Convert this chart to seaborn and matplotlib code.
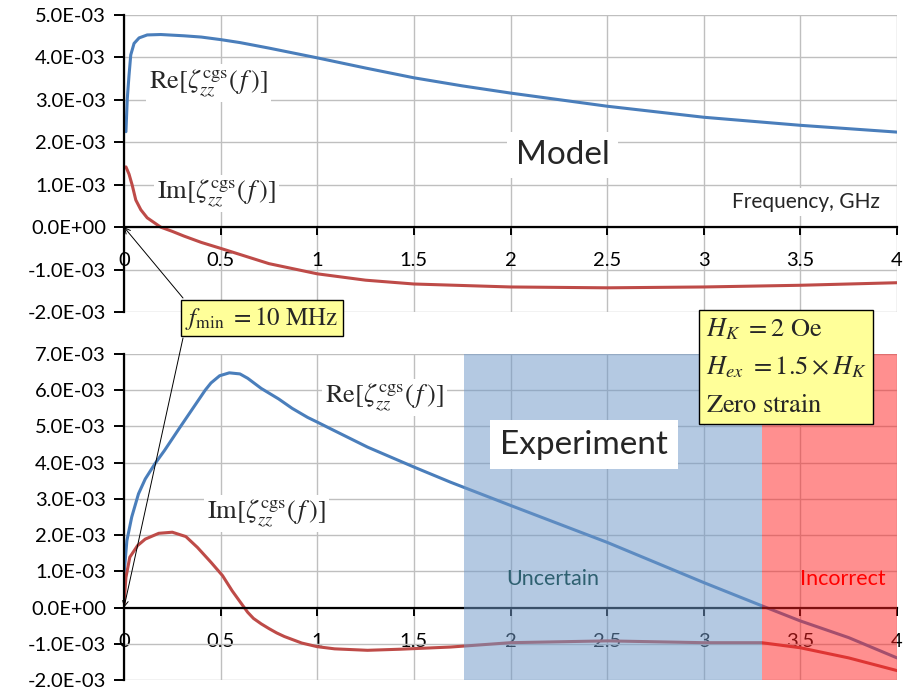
import numpy as np
import pandas as pd
import matplotlib
matplotlib.use("Agg")
import matplotlib.pyplot as plt
from matplotlib.ticker import FuncFormatter
import seaborn as sns

# Model curves (frequency in GHz, values in units of 1e-3)
model_re_f = [0.01, 0.017, 0.026, 0.035, 0.052, 0.078, 0.12, 0.19, 0.31, 0.4, 0.5,
              0.6, 0.75, 1.0, 1.25, 1.5, 1.75, 2.0, 2.5, 3.0, 3.5, 4.0]
model_re = [2.25, 3.03, 3.58, 4.06, 4.33, 4.46, 4.53, 4.54, 4.51, 4.48, 4.42,
            4.35, 4.22, 3.99, 3.75, 3.52, 3.33, 3.16, 2.85, 2.59, 2.4, 2.24]
model_im_f = [0.01, 0.026, 0.043, 0.061, 0.087, 0.12, 0.174, 0.19, 0.25, 0.31, 0.4,
              0.5, 0.75, 1.0, 1.25, 1.5, 2.0, 2.5, 3.0, 3.5, 4.0]
model_im = [1.42, 1.25, 0.98, 0.64, 0.41, 0.22, 0.05, 0.0, -0.1, -0.21, -0.36,
            -0.5, -0.86, -1.1, -1.25, -1.34, -1.41, -1.43, -1.41, -1.37, -1.31]

# Experiment curves
exp_re_f = [0.0, 0.015, 0.04, 0.075, 0.11, 0.16, 0.21, 0.28, 0.35, 0.42, 0.45, 0.495,
            0.545, 0.6, 0.64, 0.71, 0.8, 0.87, 0.95, 1.0, 1.09, 1.26, 1.5, 1.69, 2.0,
            2.5, 3.0, 3.3, 3.5, 3.75, 4.0]
exp_re = [0.92, 1.85, 2.5, 3.14, 3.55, 3.97, 4.34, 4.9, 5.45, 6.0, 6.2, 6.4,
          6.48, 6.45, 6.33, 6.05, 5.76, 5.5, 5.25, 5.12, 4.88, 4.43, 3.88, 3.46, 2.82,
          1.8, 0.69, 0.05, -0.37, -0.83, -1.39]
exp_im_f = [0.0, 0.01, 0.03, 0.07, 0.11, 0.18, 0.25, 0.32, 0.38, 0.45, 0.51, 0.56,
            0.61, 0.64, 0.67, 0.71, 0.75, 0.79, 0.83, 0.92, 1.0, 1.09, 1.26, 1.43, 1.69,
            2.0, 2.5, 3.0, 3.3, 3.5, 3.75, 4.0]
exp_im = [0.1, 0.83, 1.39, 1.71, 1.89, 2.05, 2.08, 1.96, 1.66, 1.25, 0.88, 0.46,
          0.09, -0.13, -0.3, -0.45, -0.58, -0.7, -0.8, -0.98, -1.08, -1.14, -1.18,
          -1.15, -1.09, -0.97, -0.92, -0.97, -0.97, -1.11, -1.39, -1.74]

x_ticks = [0, 0.5, 1, 1.5, 2, 2.5, 3, 3.5, 4]
uncertain_band = (1.76, 3.3)
incorrect_band = (3.3, 4.0)

BLUE = "#4A7EBB"
RED = "#BE4B48"

sns.set_style("white")
plt.rcParams["font.family"] = ["Lato", "DejaVu Sans"]
plt.rcParams["mathtext.fontset"] = "stix"

fig = plt.figure(figsize=(9.06, 6.95), dpi=100)
W, H = 906, 695
ax1 = fig.add_axes([124 / W, 1 - 312 / H, (897 - 124) / W, (312 - 15) / H])
ax2 = fig.add_axes([124 / W, 1 - 680 / H, (897 - 124) / W, (680 - 354) / H])


def style_axes(ax, ymin, ymax):
    ax.set_xlim(0, 4)
    ax.set_ylim(ymin * 1e-3, ymax * 1e-3)
    ax.set_xticks(x_ticks)
    ax.set_xticklabels([f"{t:g}" for t in x_ticks])
    ax.set_yticks(np.arange(ymin, ymax + 0.5, 1.0) * 1e-3)
    ax.yaxis.set_major_formatter(FuncFormatter(lambda v, p: f"{v:.1E}"))
    ax.grid(True, color="#BFBFBF", linewidth=1.0)
    ax.set_axisbelow(True)
    for s in ["top", "right"]:
        ax.spines[s].set_visible(False)
    ax.spines["left"].set_color("black")
    ax.spines["left"].set_linewidth(1.6)
    ax.spines["bottom"].set_position(("data", 0))
    ax.spines["bottom"].set_color("black")
    ax.spines["bottom"].set_linewidth(1.6)
    ax.tick_params(axis="x", direction="out", length=6, width=1.4, pad=12,
                   labelsize=14.5, colors="black", bottom=True)
    ax.tick_params(axis="y", direction="out", length=7, width=1.4, pad=6,
                   labelsize=14.5, colors="black", left=True)
    ax.set_xlabel("")
    ax.set_ylabel("")


def to_df(f, v):
    return pd.DataFrame({"f": f, "v": np.array(v) * 1e-3})


lab_kw = dict(fontsize=19, ha="left", va="center",
              bbox=dict(facecolor="white", edgecolor="none", pad=2))
re_lab = r"$\mathrm{Re}[\zeta_{zz}^{\mathrm{cgs}}(\,f\,)]$"
im_lab = r"$\mathrm{Im}[\zeta_{zz}^{\mathrm{cgs}}(\,f\,)]$"

# Top panel: model
sns.lineplot(data=to_df(model_re_f, model_re), x="f", y="v", ax=ax1, color=BLUE, linewidth=2.2)
sns.lineplot(data=to_df(model_im_f, model_im), x="f", y="v", ax=ax1, color=RED, linewidth=2.2)
style_axes(ax1, -2, 5)
ax1.text(0.13, 3.4e-3, re_lab, **lab_kw)
ax1.text(0.17, 0.8e-3, im_lab, **lab_kw)
ax1.text(2.27, 1.7e-3, "Model", fontsize=24, ha="center", va="center",
         bbox=dict(facecolor="white", edgecolor="none", pad=6))
ax1.text(3.91, 0.6e-3, "Frequency, GHz", fontsize=15, ha="right", va="center",
         bbox=dict(facecolor="white", edgecolor="none", pad=3))

# Bottom panel: experiment
sns.lineplot(data=to_df(exp_re_f, exp_re), x="f", y="v", ax=ax2, color=BLUE, linewidth=2.2)
sns.lineplot(data=to_df(exp_im_f, exp_im), x="f", y="v", ax=ax2, color=RED, linewidth=2.2)
style_axes(ax2, -2, 7)
ax2.axvspan(*uncertain_band, color="#6F98C8", alpha=0.52, lw=0, zorder=3)
ax2.axvspan(*incorrect_band, color="#FF2020", alpha=0.5, lw=0, zorder=3)
ax2.text(1.04, 5.8e-3, re_lab, **lab_kw)
ax2.text(0.43, 2.6e-3, im_lab, **lab_kw)
ax2.text(2.38, 4.5e-3, "Experiment", fontsize=24, ha="center", va="center", zorder=5,
         bbox=dict(facecolor="white", edgecolor="none", pad=7))
ax2.text(2.22, 0.78e-3, "Uncertain", fontsize=15.5, color="#2E6070", ha="center",
         va="center", zorder=5)
ax2.text(3.72, 0.78e-3, "Incorrect", fontsize=15.5, color="#FF0000", ha="center",
         va="center", zorder=5)

# Yellow annotation boxes
ybox = dict(boxstyle="square,pad=0.18", facecolor="#FFFF99", edgecolor="black", linewidth=1)
fig.text(262 / W, 1 - 318 / H, r"$f_{\min}\ = 10\ \mathrm{MHz}$", fontsize=18,
         ha="center", va="center", bbox=ybox, zorder=10)
fig.text(706 / W, 1 - 367 / H,
         r"$H_K\ = 2\ \mathrm{Oe}$" + "\n" + r"$H_{ex}\ = 1.5\times H_K$" + "\n"
         + r"$\mathrm{Zero\ strain}$",
         fontsize=19, ha="left", va="center", linespacing=1.6,
         bbox=dict(boxstyle="square,pad=0.25", facecolor="#FFFF99", edgecolor="black",
                   linewidth=1), zorder=10)

arrow = dict(arrowstyle="->", color="black", lw=0.7, shrinkA=0, shrinkB=0)
ax1.annotate("", xy=(0, 0), xycoords="data", xytext=(183 / W, 1 - 298 / H),
             textcoords="figure fraction", arrowprops=arrow, annotation_clip=False)
ax2.annotate("", xy=(0, 0), xycoords="data", xytext=(183 / W, 1 - 338 / H),
             textcoords="figure fraction", arrowprops=arrow, annotation_clip=False)

fig.savefig("out.png", dpi=100)
